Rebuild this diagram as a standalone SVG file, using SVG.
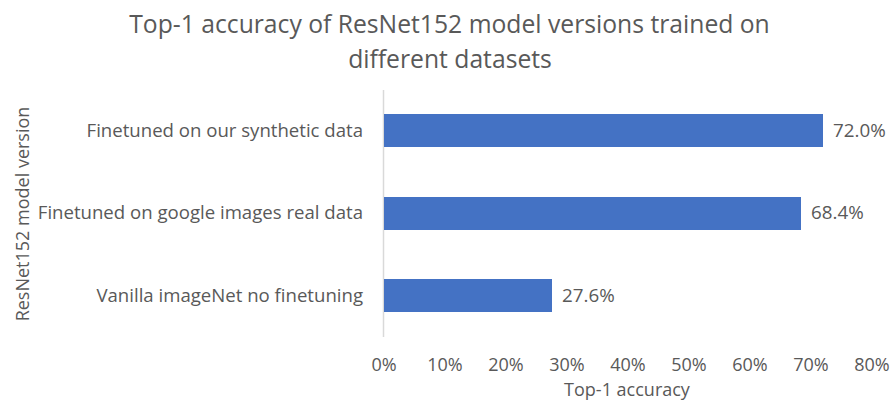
<svg xmlns="http://www.w3.org/2000/svg" width="893" height="402" viewBox="0 0 893 402">
<style>
text { font-family: "Open Sans", "Noto Sans", sans-serif; fill: #595959; }
.title { font-size: 24.7px; }
.cat { font-size: 18.6px; }
.tick { font-size: 18px; }
.val { font-size: 18.8px; }
.bar { fill: #4472C4; }
</style>
<rect width="893" height="402" fill="#ffffff"/>
<text class="title" x="449.5" y="33" text-anchor="middle">Top-1 accuracy of ResNet152 model versions trained on</text>
<text class="title" x="450" y="68" text-anchor="middle">different datasets</text>
<g id="connectors">
<line x1="383.5" y1="90" x2="383.5" y2="337" stroke="#D9D9D9" stroke-width="1.5"/>
</g>
<g id="bar-synthetic">
<rect class="bar" x="384" y="114" width="439" height="33"/>
<text class="cat" x="363" y="137" text-anchor="end">Finetuned on our synthetic data</text>
<text class="val" x="833" y="137">72.0%</text>
</g>
<g id="bar-google">
<rect class="bar" x="384" y="197" width="417" height="33"/>
<text class="cat" x="363" y="219" text-anchor="end">Finetuned on google images real data</text>
<text class="val" x="811" y="219">68.4%</text>
</g>
<g id="bar-vanilla">
<rect class="bar" x="384" y="279" width="168" height="33"/>
<text class="cat" x="363" y="302" text-anchor="end">Vanilla imageNet no finetuning</text>
<text class="val" x="562" y="302">27.6%</text>
</g>
<g id="x-axis">
<text class="tick" x="384" y="371" text-anchor="middle">0%</text>
<text class="tick" x="445" y="371" text-anchor="middle">10%</text>
<text class="tick" x="506" y="371" text-anchor="middle">20%</text>
<text class="tick" x="567" y="371" text-anchor="middle">30%</text>
<text class="tick" x="628" y="371" text-anchor="middle">40%</text>
<text class="tick" x="689" y="371" text-anchor="middle">50%</text>
<text class="tick" x="750" y="371" text-anchor="middle">60%</text>
<text class="tick" x="811" y="371" text-anchor="middle">70%</text>
<text class="tick" x="872" y="371" text-anchor="middle">80%</text>
<text class="tick" x="627" y="396" text-anchor="middle">Top-1 accuracy</text>
</g>
<g id="y-axis">
<text class="tick" transform="translate(29,214) rotate(-90)" text-anchor="middle">ResNet152 model version</text>
</g>
</svg>
